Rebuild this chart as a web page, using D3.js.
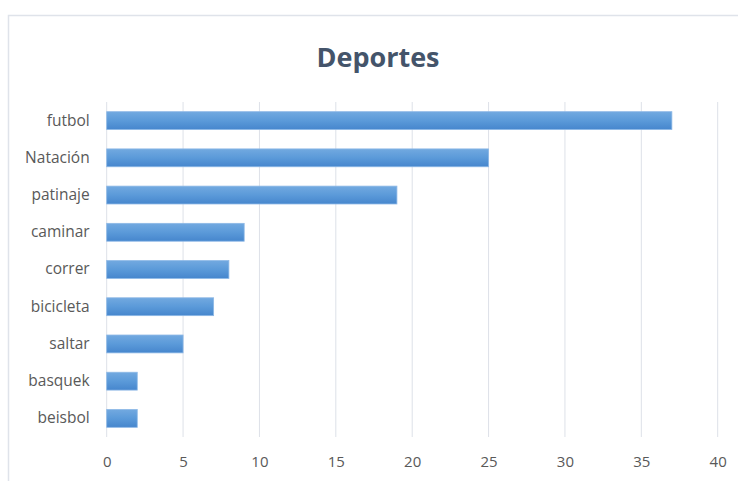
<!DOCTYPE html>
<html>
<head>
<meta charset="utf-8">
<script src="https://cdn.jsdelivr.net/npm/d3@7"></script>
<style>
  html, body { margin: 0; padding: 0; background: #fff; }
  svg { display: block; }
</style>
</head>
<body>
<svg id="chart" width="738" height="481"></svg>
<script>
// Deportes: number of people per sport
const categories = ["futbol", "Natación", "patinaje", "caminar", "correr", "bicicleta", "saltar", "basquek", "beisbol"];
const values = [37, 25, 19, 9, 8, 7, 5, 2, 2];
const xTicks = [0, 5, 10, 15, 20, 25, 30, 35, 40];
const title = "Deportes";

const svg = d3.select("#chart");
const W = 738, H = 481;
const plot = { left: 106.7, right: 717.7, top: 102, bottom: 437 };

// chart frame
svg.append("rect")
  .attr("x", 8.5).attr("y", 15.5)
  .attr("width", W + 10).attr("height", H + 10)
  .attr("fill", "#fff").attr("stroke", "#dfe3ea").attr("stroke-width", 1.5);

// bar gradient
const defs = svg.append("defs");
const grad = defs.append("linearGradient").attr("id", "barGrad")
  .attr("x1", 0).attr("y1", 0).attr("x2", 0).attr("y2", 1);
grad.append("stop").attr("offset", "0%").attr("stop-color", "#72a9e0");
grad.append("stop").attr("offset", "50%").attr("stop-color", "#5b9ad9");
grad.append("stop").attr("offset", "100%").attr("stop-color", "#4686cd");

const x = d3.scaleLinear().domain([0, 40]).range([plot.left, plot.right]);
const y = d3.scaleBand().domain(categories).range([plot.top, plot.bottom])
  .paddingInner(0.52).paddingOuter(0.26);

// vertical gridlines
svg.append("g").selectAll("line").data(xTicks).join("line")
  .attr("x1", d => x(d)).attr("x2", d => x(d))
  .attr("y1", plot.top).attr("y2", plot.bottom)
  .attr("stroke", "#dde1e8").attr("stroke-width", 1);

// bars
svg.append("g").selectAll("rect").data(categories).join("rect")
  .attr("x", x(0))
  .attr("y", d => y(d))
  .attr("width", (d, i) => x(values[i]) - x(0))
  .attr("height", y.bandwidth())
  .attr("fill", "url(#barGrad)")
  .attr("stroke", "#8db8e6").attr("stroke-width", 0.8);

// category axis (labels only)
const yAxis = d3.axisLeft(y).tickSize(0).tickPadding(17);
const gy = svg.append("g").attr("transform", `translate(${plot.left},0)`).call(yAxis);
gy.select(".domain").remove();
gy.selectAll("text")
  .attr("fill", "#595959")
  .style("font-family", "'Open Sans', sans-serif")
  .style("font-size", "15.5px");

// value axis
const xAxis = d3.axisBottom(x).tickValues(xTicks).tickSize(0).tickPadding(19);
const gx = svg.append("g").attr("transform", `translate(0,${plot.bottom})`).call(xAxis);
gx.select(".domain").remove();
gx.selectAll("text")
  .attr("fill", "#595959")
  .style("font-family", "'Open Sans', sans-serif")
  .style("font-size", "15px");

// title
svg.append("text")
  .attr("x", 378).attr("y", 67)
  .attr("text-anchor", "middle")
  .attr("fill", "#44546a")
  .style("font-family", "'Open Sans', sans-serif")
  .style("font-weight", "bold")
  .style("font-size", "27px")
  .text(title);
</script>
</body>
</html>
